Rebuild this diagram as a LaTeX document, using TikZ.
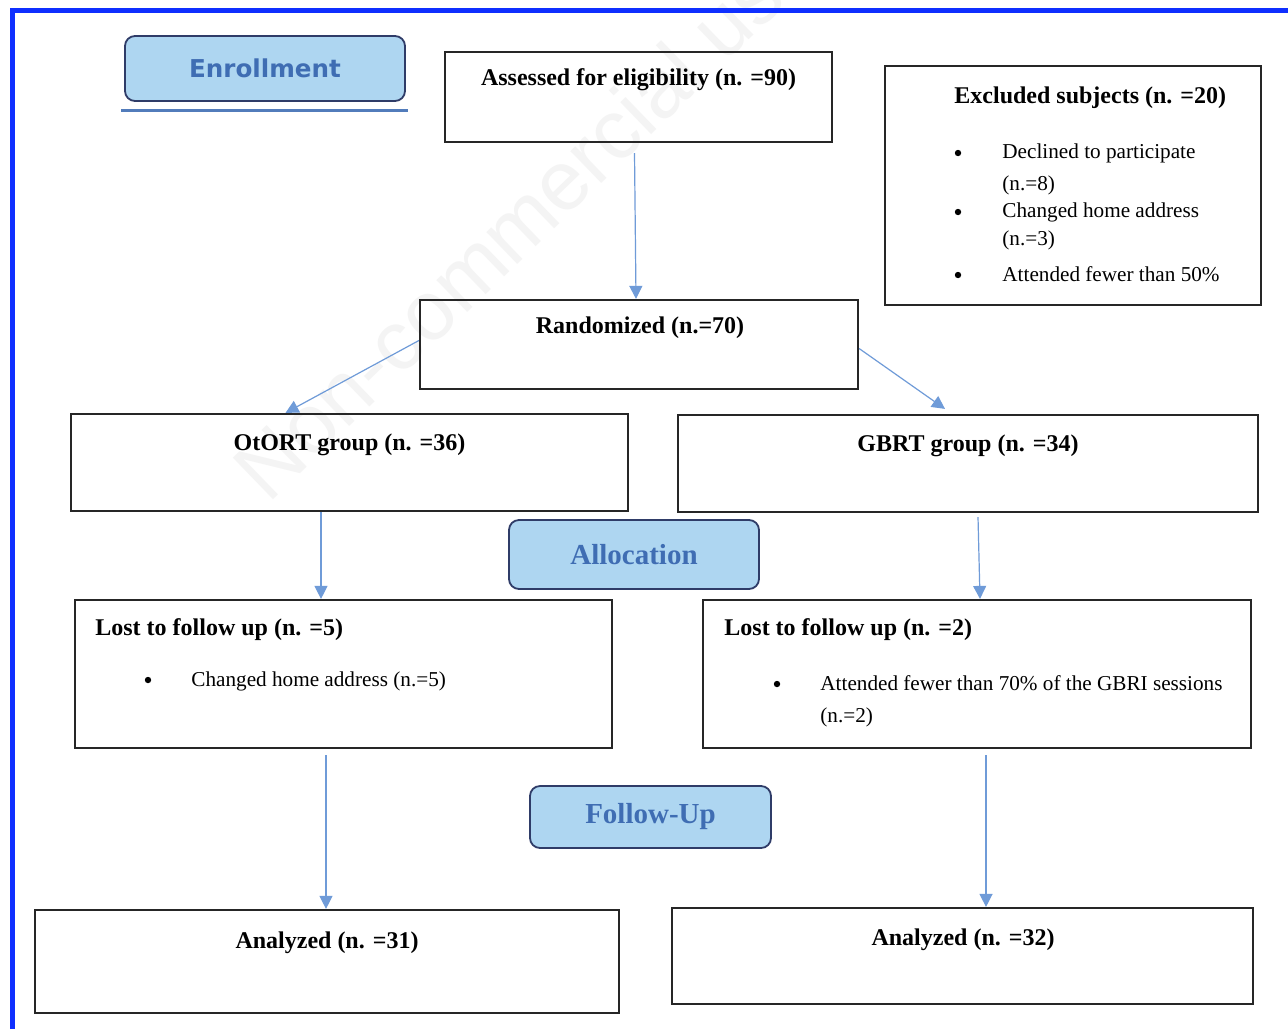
\documentclass[tikz,border=0pt]{standalone}
\usepackage{fontspec}
\setmainfont{Liberation Serif}
\newfontfamily\phasesans{DejaVu Sans}
\newfontfamily\markfont{Liberation Sans}
\usetikzlibrary{positioning,arrows.meta}
\usepackage{xcolor}
\definecolor{phasefill}{HTML}{AED6F1}
\definecolor{phaseline}{HTML}{2F3C68}
\definecolor{phasetext}{HTML}{3F6DB3}
\definecolor{flowblue}{HTML}{6F9BD8}
\definecolor{frameblue}{HTML}{0F2FFF}

\tikzset{
  box/.style={draw=black!85, line width=1.1pt, inner sep=0pt},
  wh/.style 2 args={minimum width=#1*0.5pt, minimum height=#2*0.5pt},
  phase/.style={draw=phaseline, fill=phasefill, line width=0.9pt, rounded corners=5pt,
    inner sep=0pt, text=phasetext, font=\fontsize{14.5}{16}\selectfont\bfseries},
  title/.style={inner sep=0pt, anchor=base, font=\fontsize{12}{14}\selectfont\bfseries},
  ltitle/.style={title, anchor=base west},
  item/.style={inner sep=0pt, anchor=base west, font=\fontsize{10.6}{12}\selectfont},
  dot/.style={circle, fill=black, inner sep=0pt, minimum size=3.2pt},
  flow/.style={draw=flowblue, line width=0.6pt, -{Triangle[length=6.5pt,width=6.5pt]}},
}

\begin{document}
\begin{tikzpicture}[x=0.5pt, y=-0.5pt]
    \useasboundingbox (0,0) rectangle (1288,1029);
    \fill[white] (0,0) rectangle (1288,1029);

    % watermark
    \node[inner sep=0pt, anchor=base west, rotate=44, text=gray!9,
      font=\markfont\fontsize{42}{42}\selectfont] (wmark) at (268,505) {Non-commercial use only};

    % frame
    \draw[frameblue, line width=2.5pt] (12.5,1029) -- (12.5,10.5) -- (1288,10.5);

    % phases
    \node[phase, wh={280}{65}, font=\phasesans\fontsize{12.3}{14}\selectfont\bfseries] (enroll) at (265,68.5) {Enrollment};
    \draw[draw=phasetext!90, line width=1.5pt] ([xshift=-1.5pt,yshift=-4.5pt]enroll.south west) -- ([xshift=1pt,yshift=-4.5pt]enroll.south east);
    \node[phase, wh={250}{69}] (alloc) at (634,554.5) {Allocation};
    \node[phase, wh={241}{62}] (follow) at (650.5,817) {Follow-Up};

    % boxes
    \node[box, wh={387}{90}] (assess) at (638.5,97) {};
    \node[box, wh={376}{239}] (excl) at (1073,185.5) {};
    \node[box, wh={438}{89}] (rand) at (639,344.5) {};
    \node[box, wh={557}{97}] (otort) at (349.5,462.5) {};
    \node[box, wh={580}{97}] (gbrt) at (968,463.5) {};
    \node[box, wh={537}{148}] (lostA) at (343.5,674) {};
    \node[box, wh={548}{148}] (lostB) at (977,674) {};
    \node[box, wh={584}{103}] (anaA) at (327,961.5) {};
    \node[box, wh={581}{96}] (anaB) at (962.5,956) {};

    % texts
    \node[title] (assessT) at (638.5,85) {Assessed for eligibility (n. =90)};
    \node[ltitle] (exclT) at (954,103) {Excluded subjects (n. =20)};
    \node[dot] (exclD1) at (958,153) {};
    \node[item] (exclL1) at (1002,158) {Declined to participate};
    \node[item] (exclL2) at (1002,190) {(n.=8)};
    \node[dot] (exclD2) at (958,212) {};
    \node[item] (exclL3) at (1002,217) {Changed home address};
    \node[item] (exclL4) at (1002,245) {(n.=3)};
    \node[dot] (exclD3) at (958,275) {};
    \node[item] (exclL5) at (1002,281) {Attended fewer than 50\%};
    \node[title] (randT) at (640,333) {Randomized (n.=70)};
    \node[title] (otortT) at (349.5,450) {OtORT group (n. =36)};
    \node[title] (gbrtT) at (968,451) {GBRT group (n. =34)};
    \node[ltitle] (lostAT) at (95,635) {Lost to follow up (n. =5)};
    \node[dot] (lostAD) at (148,680) {};
    \node[item] (lostAL) at (191,686) {Changed home address (n.=5)};
    \node[ltitle] (lostBT) at (724,635) {Lost to follow up (n. =2)};
    \node[dot] (lostBD) at (777,684) {};
    \node[item] (lostBL1) at (820,690) {Attended fewer than 70\% of the GBRI sessions};
    \node[item] (lostBL2) at (820,722) {(n.=2)};
    \node[title] (anaAT) at (327,948) {Analyzed (n. =31)};
    \node[title] (anaBT) at (963,945) {Analyzed (n. =32)};

    % arrows
    \draw[flow] ([xshift=-2pt,yshift=-5pt]assess.south) -- ([xshift=-1.5pt]rand.north);
    \draw[flow] ([yshift=2pt]rand.west) -- ([xshift=-32pt]otort.north);
    \draw[flow] ([yshift=-2pt]rand.east) -- ([xshift=-11.5pt,yshift=2.5pt]gbrt.north);
    \draw[flow] ([xshift=-14.25pt]otort.south) -- ([xshift=-11.25pt]lostA.north);
    \draw[flow] ([xshift=5pt,yshift=-2pt]gbrt.south) -- ([xshift=1.5pt]lostB.north);
    \draw[flow] ([xshift=-8.75pt,yshift=-3pt]lostA.south) -- ([xshift=-0.5pt]anaA.north);
    \draw[flow] ([xshift=4.5pt,yshift=-3pt]lostB.south) -- ([xshift=11.75pt]anaB.north);
\end{tikzpicture}
\end{document}
